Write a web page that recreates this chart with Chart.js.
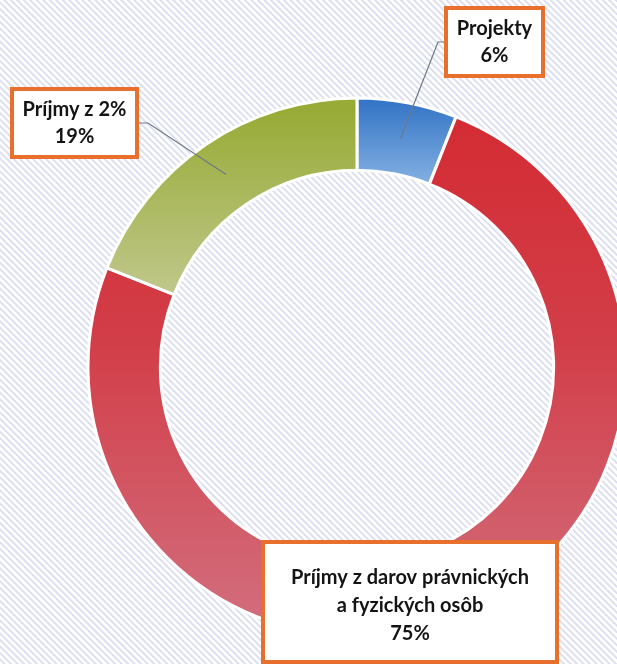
<!DOCTYPE html>
<html>
<head>
<meta charset="utf-8">
<script src="https://cdn.jsdelivr.net/npm/chart.js@4.4.1/dist/chart.umd.min.js"></script>
<style>
  html, body { margin: 0; padding: 0; overflow: hidden; }
  body {
    width: 617px; height: 664px;
    background: repeating-linear-gradient(45deg, #ffffff 0px, #ffffff 2px, #dcdff1 2.6px, #dcdff1 3.8px, #ffffff 4.6px);
  }
  #wrap { position: absolute; left: 0; top: 0; width: 617px; height: 664px; }
</style>
</head>
<body>
<div id="wrap"><canvas id="grf"></canvas></div>
<script>
// data
const kategorie = ['Projekty', 'Príjmy z darov právnických a fyzických osôb', 'Príjmy z 2%'];
const podiel = [6, 75, 19];
const popisky = [['Projekty', '6%'], ['Príjmy z darov právnických', 'a fyzických osôb', '75%'], ['Príjmy z 2%', '19%']];

// label boxes (layout only)
const boxy = [
    { x: 446, y: 8, w: 97, h: 68, leader: [[446, 42], [438, 42]] },
    { x: 263, y: 542, w: 294, h: 120, leader: null },
    { x: 12, y: 89, w: 125, h: 68, leader: [[137, 123], [148, 123]] }
];

const farby = [
    ['#3274c6', '#86b1e2'],
    ['#d42a32', '#d27080'],
    ['#98ab36', '#c3ca92']
];

function gradFill(context) {
    const chart = context.chart;
    const area = chart.chartArea;
    if (!area) return farby[context.dataIndex][0];
    const c = farby[context.dataIndex];
    let g;
    if (context.dataIndex === 1) {
        g = chart.ctx.createLinearGradient(0, 100, 0, 640);
        g.addColorStop(0, c[0]);
        g.addColorStop(0.45, '#d23e48');
        g.addColorStop(1, c[1]);
    } else if (context.dataIndex === 0) {
        g = chart.ctx.createLinearGradient(0, 100, 0, 185);
        g.addColorStop(0, c[0]);
        g.addColorStop(1, c[1]);
    } else {
        g = chart.ctx.createLinearGradient(0, 110, 0, 310);
        g.addColorStop(0, c[0]);
        g.addColorStop(1, c[1]);
    }
    return g;
}

const boxPlugin = {
    id: 'boxPlugin',
    afterDatasetsDraw(chart) {
        const ctx = chart.ctx;
        const arcs = chart.getDatasetMeta(0).data;
        ctx.save();
        boxy.forEach((b, i) => {
            if (b.leader) {
                const p = arcs[i].tooltipPosition();
                ctx.beginPath();
                ctx.strokeStyle = '#6b7888';
                ctx.lineWidth = 1.2;
                ctx.moveTo(b.leader[0][0], b.leader[0][1]);
                ctx.lineTo(b.leader[1][0], b.leader[1][1]);
                ctx.lineTo(p.x, p.y);
                ctx.stroke();
            }
            ctx.fillStyle = '#ffffff';
            ctx.fillRect(b.x, b.y, b.w, b.h);
            ctx.strokeStyle = '#e8702c';
            ctx.lineWidth = 4;
            ctx.strokeRect(b.x, b.y, b.w, b.h);
            ctx.fillStyle = '#141414';
            ctx.font = 'bold 20px Lato';
            ctx.textAlign = 'center';
            ctx.textBaseline = 'middle';
            const lines = popisky[i];
            const lh = i === 1 ? 28 : 27;
            const cy = i === 1 ? 578 : b.y + b.h / 2 - lh / 2 * (lines.length - 1);
            lines.forEach((t, k) => ctx.fillText(t, b.x + b.w / 2, cy + k * lh));
        });
        ctx.restore();
    }
};

new Chart(document.getElementById('grf').getContext('2d'), {
    type: 'doughnut',
    data: {
        labels: kategorie,
        datasets: [{
            data: podiel,
            backgroundColor: gradFill,
            borderColor: '#ffffff',
            borderWidth: 3,
            hoverOffset: 0
        }]
    },
    options: {
        responsive: true,
        maintainAspectRatio: false,
        animation: false,
        radius: 269,
        cutout: 189,
        layout: { padding: { left: 97, right: 0, top: 70, bottom: 0 } },
        plugins: {
            legend: { display: false },
            tooltip: { enabled: false }
        }
    },
    plugins: [boxPlugin]
});
</script>
</body>
</html>
